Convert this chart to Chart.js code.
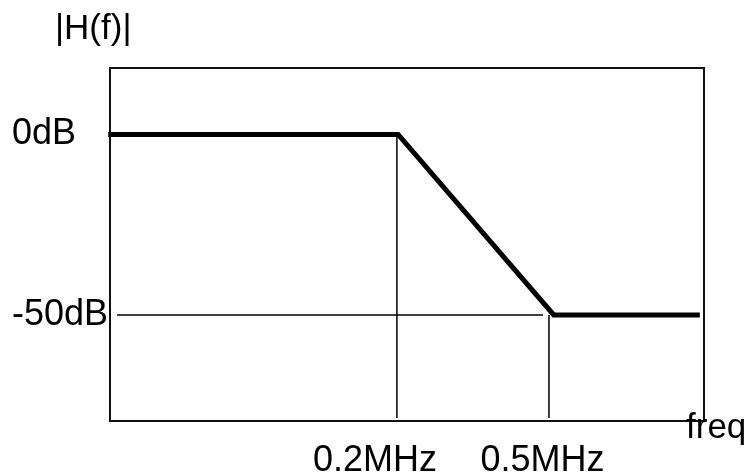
<!DOCTYPE html>
<html>
<head>
<meta charset="utf-8">
<script src="https://cdn.jsdelivr.net/npm/chart.js@4"></script>
<style>
  html, body { margin: 0; padding: 0; background: #fff; }
  #wrap { width: 749px; height: 475px; }
</style>
</head>
<body>
<div id="wrap"><canvas id="bodeChart" width="749" height="475"></canvas></div>
<script>
// schematic frequency axis (0..100), gain in dB
const freqPos = [-0.3, 48.5, 74.7, 99.3];
const gainDb = [0, 0, -50, -50];

// thin guide lines
const guideH = { x: [1.2, 72.9], y: [-50, -50] };
const guideV1 = { x: [48.3, 48.3], y: [0, -78.6] };
const guideV2 = { x: [73.9, 73.9], y: [-50, -78.6] };

const xTickPos = [44.6, 72.8];
const xTickLabels = ["0.2MHz", "0.5MHz"];
const yTickPos = [0, -50];
const yTickLabels = ["0dB", "-50dB"];

const FONT = "'Liberation Sans', Arial, sans-serif";

function pts(xs, ys) {
    return xs.map((x, i) => ({ x: x, y: ys[i] }));
}

function thin(xs, ys) {
    return {
        data: pts(xs, ys),
        borderColor: "#000",
        borderWidth: 1.5,
        pointRadius: 0,
        showLine: true,
        clip: false
    };
}

// box around the plot + the two loose labels
const framePlugin = {
    id: "frame",
    afterDraw(chart) {
        const { ctx, chartArea } = chart;
        ctx.save();
        ctx.strokeStyle = "#111";
        ctx.lineWidth = 2;
        ctx.strokeRect(chartArea.left, chartArea.top,
            chartArea.right - chartArea.left, chartArea.bottom - chartArea.top);
        ctx.fillStyle = "#000";
        ctx.font = "35px " + FONT;
        ctx.textAlign = "left";
        ctx.textBaseline = "alphabetic";
        ctx.fillText("|H(f)|", chartArea.left - 55, chartArea.top - 29);
        ctx.fillText("freq", chartArea.right - 18, chartArea.bottom + 17);
        ctx.restore();
    }
};

const ctx = document.getElementById("bodeChart").getContext("2d");

const bodeChart = new Chart(ctx, {
    type: "scatter",
    data: {
        datasets: [
            {
                data: pts(freqPos, gainDb),
                borderColor: "#000",
                borderWidth: 5,
                pointRadius: 0,
                showLine: true,
                clip: false
            },
            thin(guideH.x, guideH.y),
            thin(guideV1.x, guideV1.y),
            thin(guideV2.x, guideV2.y)
        ]
    },
    options: {
        responsive: false,
        animation: false,
        layout: { padding: { left: 12, top: 68, right: 45, bottom: 0 } },
        plugins: {
            legend: { display: false },
            tooltip: { enabled: false }
        },
        scales: {
            x: {
                type: "linear",
                min: 0,
                max: 100,
                grid: { display: false, drawTicks: false },
                border: { display: false },
                afterBuildTicks: (scale) => {
                    scale.ticks = xTickPos.map(v => ({ value: v }));
                },
                afterFit: (scale) => { scale.height = 54; },
                ticks: {
                    color: "#000",
                    padding: 18,
                    maxRotation: 0,
                    autoSkip: false,
                    font: { family: FONT, size: 36 },
                    callback: (v, i) => xTickLabels[i]
                }
            },
            y: {
                type: "linear",
                min: -79.4,
                max: 18.4,
                grid: { display: false, drawTicks: false },
                border: { display: false },
                afterBuildTicks: (scale) => {
                    scale.ticks = yTickPos.map(v => ({ value: v }));
                },
                afterFit: (scale) => { scale.width = 98; },
                ticks: {
                    color: "#000",
                    crossAlign: "far",
                    autoSkip: false,
                    font: { family: FONT, size: 36 },
                    callback: (v, i) => yTickLabels[i]
                }
            }
        }
    },
    plugins: [framePlugin]
});
</script>
</body>
</html>
